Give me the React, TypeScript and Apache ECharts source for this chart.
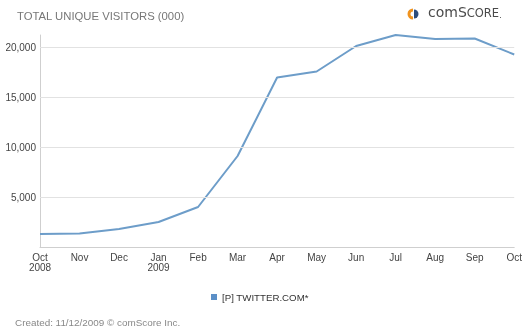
import React, { useEffect, useRef } from "react";
import * as echarts from "echarts";

const months = ["Oct\n2008", "Nov", "Dec", "Jan\n2009", "Feb", "Mar", "Apr", "May", "Jun", "Jul", "Aug", "Sep", "Oct"];
const visitors = [1300, 1350, 1800, 2500, 4000, 9100, 16950, 17550, 20100, 21200, 20800, 20850, 19250];
const gridValues = [5000, 10000, 15000, 20000];
const seriesName = "[P] TWITTER.COM*";
const titleText = "TOTAL UNIQUE VISITORS (000)";
const footerText = "Created: 11/12/2009 \u00A9 comScore Inc.";

export default function App() {
  const ref = useRef<HTMLDivElement>(null);
  useEffect(() => {
    if (!ref.current) return;
    const chart = echarts.init(ref.current, null, { renderer: "svg" });
    const font = "Liberation Sans, Arial, sans-serif";
    const logoFont = "DejaVu Sans, sans-serif";
    chart.setOption({
      animation: false,
      textStyle: { fontFamily: font },
      grid: { left: 40, top: 35, width: 476, height: 212, containLabel: false },
      xAxis: {
        type: "category",
        data: months,
        boundaryGap: false,
        axisLine: { lineStyle: { color: "#cfcfcf" } },
        axisTick: { show: false },
        axisLabel: { color: "#444", fontSize: 10, lineHeight: 10, margin: 5, fontFamily: font },
        splitLine: { show: false },
      },
      yAxis: {
        type: "value",
        min: 0,
        max: 21200,
        interval: 5000,
        axisLine: { show: true, lineStyle: { color: "#cfcfcf" } },
        axisTick: { show: false },
        splitLine: { show: false },
        axisLabel: {
          color: "#444",
          fontSize: 10,
          margin: 4,
          fontFamily: font,
          formatter: (v: number) => (v > 0 && v % 5000 === 0 ? v.toLocaleString("en-US") : ""),
        },
      },
      legend: {
        left: 206,
        top: 287,
        icon: "rect",
        itemWidth: 6,
        itemHeight: 6,
        textStyle: { color: "#333", fontSize: 9.7, fontFamily: font, padding: [0, 0, 0, 0] },
        data: [seriesName],
      },
      series: [
        {
          name: seriesName,
          type: "line",
          data: visitors,
          symbol: "none",
          color: "#5b8fc7",
          lineStyle: { color: "#6d9dc9", width: 2 },
          markLine: {
            silent: true,
            symbol: "none",
            label: { show: false },
            lineStyle: { color: "#e2e2e2", width: 1, type: "solid" },
            data: gridValues.map((v) => ({ yAxis: v })),
          },
          z: 3,
        },
      ],
      graphic: [
        {
          type: "text",
          left: 17,
          top: 10,
          style: { text: titleText, fill: "#777", fontSize: 11.3, fontFamily: font },
        },
        {
          type: "sector",
          shape: { cx: 413, cy: 14, r: 5.5, r0: 2.5, startAngle: Math.PI / 2, endAngle: (Math.PI * 3) / 2 },
          style: { fill: "#f0931e" },
        },
        {
          type: "sector",
          shape: { cx: 414, cy: 14, r: 4.5, r0: 0, startAngle: -Math.PI / 2, endAngle: Math.PI / 2 },
          style: { fill: "#2e4d7b" },
        },
        {
          type: "text",
          left: 428,
          top: 5,
          style: {
            text: "{a|comS}{b|CORE}{c|.}",
            rich: {
              a: { fontSize: 14, fill: "#4a4a4a", fontFamily: logoFont, verticalAlign: "bottom" },
              b: { fontSize: 11.5, fill: "#4a4a4a", fontFamily: logoFont, verticalAlign: "bottom" },
              c: { fontSize: 8, fill: "#4a4a4a", fontFamily: logoFont, verticalAlign: "bottom" },
            },
          },
        },
        {
          type: "text",
          left: 15,
          top: 317,
          style: { text: footerText, fill: "#888", fontSize: 9.9, fontFamily: font },
        },
      ],
    });
    return () => chart.dispose();
  }, []);
  return <div ref={ref} style={{ position: "fixed", left: 0, top: 0, width: 525, height: 327 }} />;
}
